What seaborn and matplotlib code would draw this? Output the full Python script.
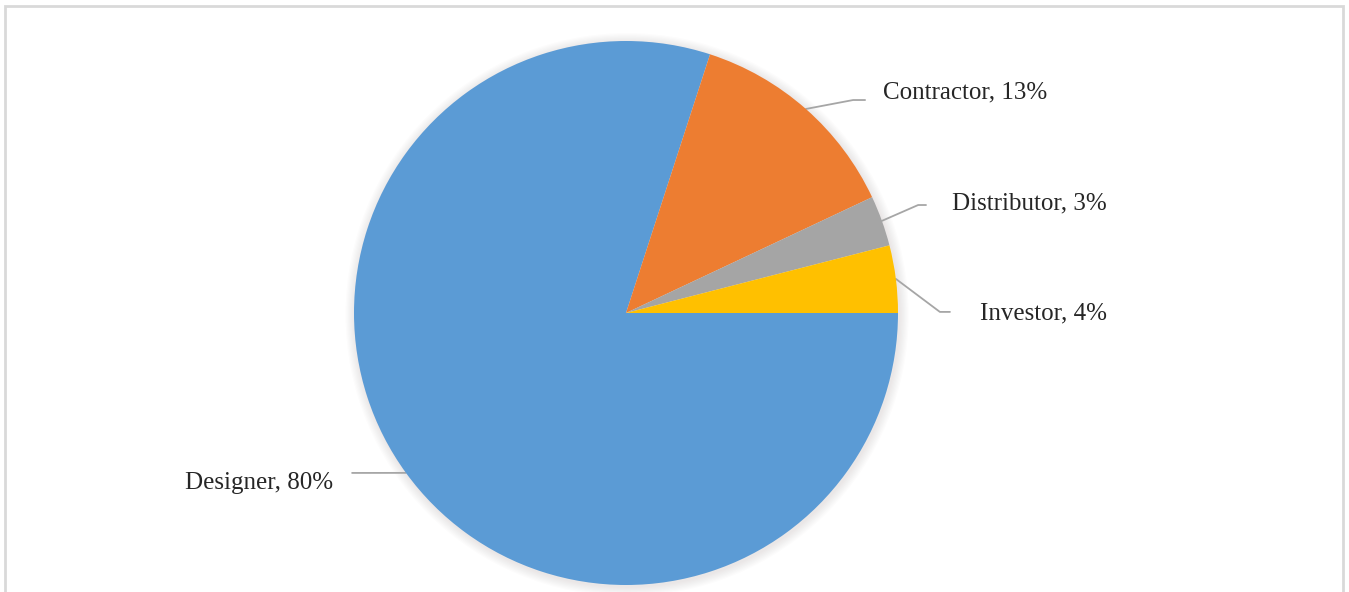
import numpy as np
import matplotlib
matplotlib.use("Agg")
import matplotlib.pyplot as plt
from matplotlib.patches import Rectangle, Circle
import seaborn as sns

# data
labels = ["Designer", "Contractor", "Distributor", "Investor"]
shares = [80, 13, 3, 4]
colors = ["#5B9BD5", "#ED7D31", "#A5A5A5", "#FFC000"]

# label layout in pie-radius units: (elbow x, elbow y, end x, text x, text y, ha)
label_layout = {
    "Designer":    (-1.007, -0.588, -1.007, -1.077, -0.625, "right"),
    "Contractor":  (0.835, 0.783, 0.879, 0.945, 0.812, "left"),
    "Distributor": (1.074, 0.397, 1.103, 1.199, 0.404, "left"),
    "Investor":    (1.154, 0.004, 1.191, 1.301, 0.000, "left"),
}

sns.set_theme(style="white")
plt.rcParams["font.family"] = ["Liberation Serif", "DejaVu Serif"]

fig = plt.figure(figsize=(13.49, 5.92), dpi=100)
ax = fig.add_axes([0, 0, 1, 1])

# faint soft shadow around the pie
for r in np.linspace(1.004, 1.035, 8):
    ax.add_patch(Circle((0.004, -0.006), r, color="#8C7F7A", alpha=0.018,
                        lw=0, zorder=0))

wedges, _ = ax.pie(
    shares, colors=colors, startangle=0, counterclock=False,
    radius=1.0, wedgeprops=dict(linewidth=0, zorder=2),
)

for w, lab, val in zip(wedges, labels, shares):
    mid = np.deg2rad((w.theta1 + w.theta2) / 2)
    ex, ey = np.cos(mid), np.sin(mid)
    bx, by, endx, tx, ty, ha = label_layout[lab]
    ax.plot([ex, bx, endx], [ey, by, by], color="#A6A6A6", lw=1.3,
            solid_capstyle="round", zorder=1)
    ax.text(tx, ty, f"{lab}, {val}%", ha=ha, va="center",
            fontsize=18, color="#262626")

ax.set_xlim(-626 / 272, (1349 - 626) / 272)
ax.set_ylim((313 - 592) / 272, 313 / 272)
ax.set_aspect("auto")
ax.axis("off")

# light outer frame (bottom edge falls off the image)
fig.patches.append(Rectangle((5 / 1349, -0.05), (1343 - 5) / 1349, 1.05 - 6 / 592,
                             transform=fig.transFigure, fill=False,
                             edgecolor="#D9D9D9", lw=2, zorder=0))

fig.savefig("out.png", dpi=100)
